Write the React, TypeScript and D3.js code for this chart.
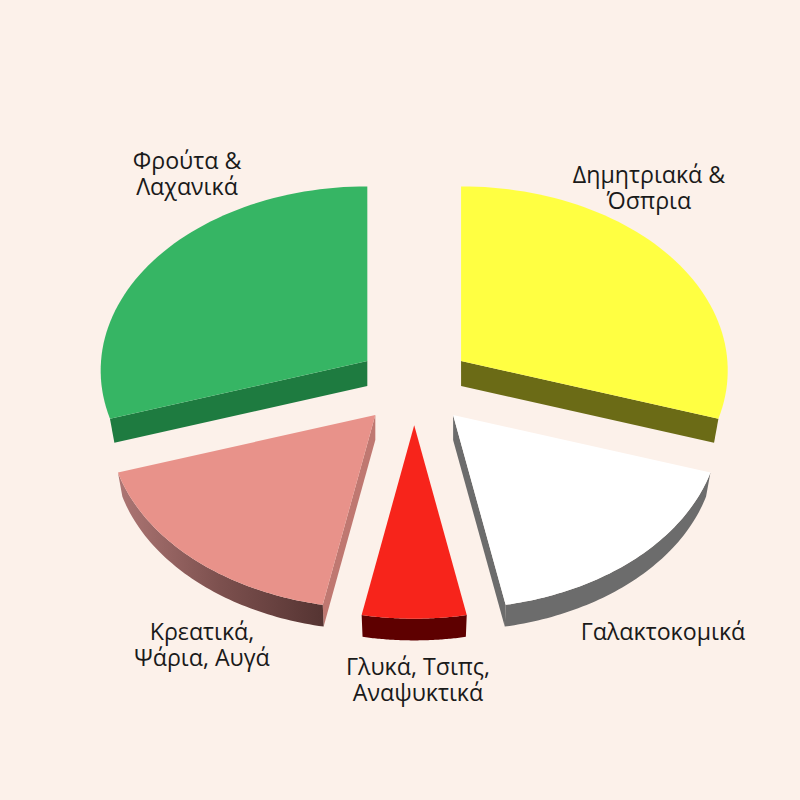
import * as d3 from "d3";

// share of each food group, clockwise from 12 o'clock
const groups = ["grains", "dairy", "sweets", "meat", "fruit"];
const values = [30, 17, 6, 17, 30];
const labels = [
  ["Δημητριακά &", "Όσπρια"],
  ["Γαλακτοκομικά"],
  ["Γλυκά, Τσιπς,", "Αναψυκτικά"],
  ["Κρεατικά,", "Ψάρια, Αυγά"],
  ["Φρούτα &", "Λαχανικά"],
];
const topColors = ["#FFFF42", "#FFFFFF", "#F7241B", "#E8928A", "#36B564"];
const cutColors = ["#6B6B16", "#6C6C6C", "#5E0000", "#BF7871", "#1E7B40"];
const wallColors = ["#6B6B16", "#6C6C6C", "#5E0000", "url(#meatWall)", "#1E7B40"];

const labelX = [649, 663, 418, 202, 187];
const labelY = [183, 640, 675, 640, 169];
const lineGap = 26.3;

const width = 800;
const height = 800;
const cx = 414.2;
const cy = 384.5;
const rx = 266.3;
const ry = 183.6;
const persp = 0.0513;
const explode = 0.219;
const depth = 25;
const baseScale = 0.983;

type Pt = [number, number];

// flat pie coordinates to screen offset, the back of the pie is a bit smaller
const project = (a: number, r = 1): Pt => {
  const w = 1 + persp * r * Math.cos(a);
  return [(rx * r * Math.sin(a)) / w, (-ry * r * Math.cos(a)) / w];
};

const pie = d3.pie<number>().sort(null).value((d) => d);
const line = d3.line();

function Slice({ arc, i }: { arc: d3.PieArcDatum<number>; i: number }) {
  const mid = (arc.startAngle + arc.endAngle) / 2;
  const off = project(mid, explode);
  const ax = cx + off[0];
  const ay = cy + off[1];
  const top = (p: Pt): Pt => [ax + p[0], ay + p[1]];
  const bottom = (p: Pt): Pt => [ax + p[0] * baseScale, ay + p[1] * baseScale + depth];

  const angles = d3.range(0, 61).map(
    (k) => arc.startAngle + ((arc.endAngle - arc.startAngle) * k) / 60
  );
  const steps = angles.map((a) => project(a));
  const rim = steps.map(top);
  const apex = top([0, 0]);
  const baseApex = bottom([0, 0]);
  const first = steps[0];
  const last = steps[steps.length - 1];

  // only the front of the rim and the cut faces turned to the viewer get drawn
  const front = angles.filter((a) => Math.cos(a) < -0.3).map((a) => project(a));
  const showFirst = Math.sin(arc.startAngle) < 1e-6;
  const showLast = Math.sin(arc.endAngle) > -1e-6;

  return (
    <g>
      {showFirst && (
        <path
          d={line([apex, top(first), bottom(first), baseApex])! + "Z"}
          fill={cutColors[i]}
        />
      )}
      {showLast && (
        <path
          d={line([apex, top(last), bottom(last), baseApex])! + "Z"}
          fill={cutColors[i]}
        />
      )}
      {front.length > 1 && (
        <path
          d={line([...front.map(top), ...front.map(bottom).reverse()])! + "Z"}
          fill={wallColors[i]}
        />
      )}
      <path d={line([apex, ...rim])! + "Z"} fill={topColors[i]} />
    </g>
  );
}

export default function App() {
  const arcs = pie(values);
  return (
    <svg
      width={width}
      height={height}
      viewBox={`0 0 ${width} ${height}`}
      style={{ position: "absolute", left: 0, top: 0, background: "#FCF1EA" }}
    >
      <defs>
        <linearGradient id="meatWall" x1="0" y1="0" x2="1" y2="0">
          <stop offset="0" stopColor="#AD7674" />
          <stop offset="0.5" stopColor="#7C504E" />
          <stop offset="1" stopColor="#553432" />
        </linearGradient>
      </defs>
      {arcs.map((arc, i) => (
        <Slice key={groups[i]} arc={arc} i={i} />
      ))}
      {labels.map((rows, i) => (
        <text
          key={groups[i]}
          textAnchor="middle"
          fontFamily="'Open Sans', 'Noto Sans', sans-serif"
          fontSize={23.2}
          fill="#1A1A1A"
        >
          {rows.map((row, j) => (
            <tspan key={row} x={labelX[i]} y={labelY[i] + j * lineGap}>
              {row}
            </tspan>
          ))}
        </text>
      ))}
    </svg>
  );
}
